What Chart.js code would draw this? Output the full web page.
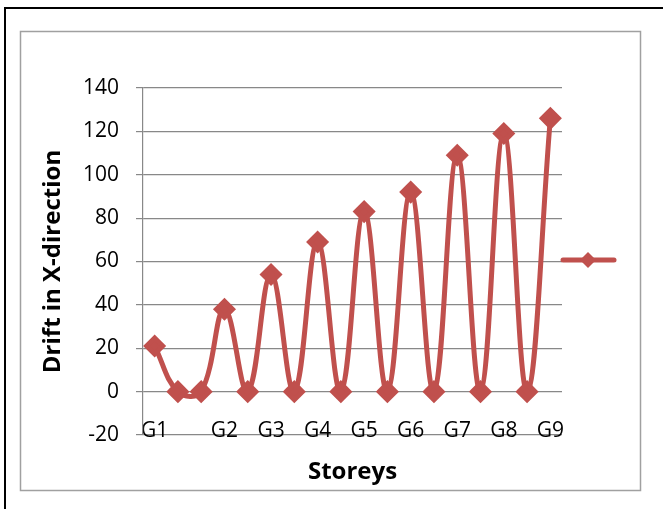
<!DOCTYPE html>
<html>
<head>
<meta charset="utf-8">
<script src="https://cdn.jsdelivr.net/npm/chart.js@4"></script>
<style>
  body { margin: 0; background: #fff; }
  #wrap { width: 663px; height: 509px; }
</style>
</head>
<body>
<div id="wrap"><canvas id="driftChart" width="663" height="509"></canvas></div>
<script>
// storeys along the x axis (blank ones carry no label)
const storeys = ["G1", "", "", "G2", "", "G3", "", "G4", "", "G5", "", "G6", "", "G7", "", "G8", "", "G9"];
// drift in X-direction
const drift = [21, 0, 0, 38, 0, 54, 0, 69, 0, 83, 0, 92, 0, 109, 0, 119, 0, 126];
const yTicks = [-20, 0, 20, 40, 60, 80, 100, 120, 140];

const red = "#C0504D";
const grid = "#888888";

// outer frame, plot frame and the text-less legend key
const frames = {
  id: "frames",
  beforeDraw(chart) {
    const ctx = chart.ctx;
    ctx.save();
    ctx.fillStyle = "#fff";
    ctx.fillRect(0, 0, chart.width, chart.height);
    ctx.strokeStyle = "#000";
    ctx.lineWidth = 2;
    ctx.strokeRect(5, 8, 670, 520);
    ctx.strokeStyle = "#a0a0a0";
    ctx.lineWidth = 1.5;
    ctx.strokeRect(20.5, 31.5, 620, 459);
    ctx.restore();
  },
  afterDraw(chart) {
    const ctx = chart.ctx;
    ctx.save();
    ctx.strokeStyle = red;
    ctx.lineWidth = 5;
    ctx.lineCap = "round";
    ctx.beginPath();
    ctx.moveTo(563, 260);
    ctx.lineTo(614, 260);
    ctx.stroke();
    ctx.fillStyle = red;
    ctx.beginPath();
    ctx.moveTo(588, 252);
    ctx.lineTo(596, 260);
    ctx.lineTo(588, 268);
    ctx.lineTo(580, 260);
    ctx.closePath();
    ctx.fill();
    ctx.restore();
  }
};

new Chart(document.getElementById("driftChart"), {
  type: "line",
  data: {
    labels: storeys,
    datasets: [{
      label: "",
      data: drift,
      borderColor: red,
      backgroundColor: red,
      borderWidth: 5,
      tension: 0.4,
      pointStyle: "rectRot",
      pointRadius: 8,
      pointHoverRadius: 8
    }]
  },
  options: {
    responsive: false,
    animation: false,
    layout: { padding: { top: 88, right: 101, bottom: 0, left: 0 } },
    plugins: { legend: { display: false }, tooltip: { enabled: false } },
    scales: {
      x: {
        offset: true,
        grid: { display: false, drawTicks: false },
        border: { display: false },
        ticks: {
          autoSkip: false,
          maxRotation: 0,
          mirror: true,
          padding: -9,
          color: "#000",
          font: { family: "Open Sans", size: 21 }
        },
        title: {
          display: true,
          text: "Storeys",
          color: "#000",
          font: { family: "Open Sans", size: 24, weight: "bold" },
          padding: { top: 0, bottom: 22 }
        },
        afterFit(s) { s.height = 74; }
      },
      y: {
        min: -20,
        max: 140,
        afterBuildTicks(s) { s.ticks = yTicks.map(v => ({ value: v })); },
        grid: { color: grid, lineWidth: 1.2, tickLength: 7 },
        border: { color: grid, width: 1.2 },
        ticks: {
          padding: 17,
          color: "#000",
          font: { family: "Open Sans", size: 21 }
        },
        title: {
          display: true,
          text: "Drift in X-direction",
          color: "#000",
          font: { family: "Open Sans", size: 24, weight: "bold" },
          padding: { top: 39, bottom: 0 }
        },
        afterFit(s) { s.width = 143; }
      }
    }
  },
  plugins: [frames]
});
</script>
</body>
</html>
